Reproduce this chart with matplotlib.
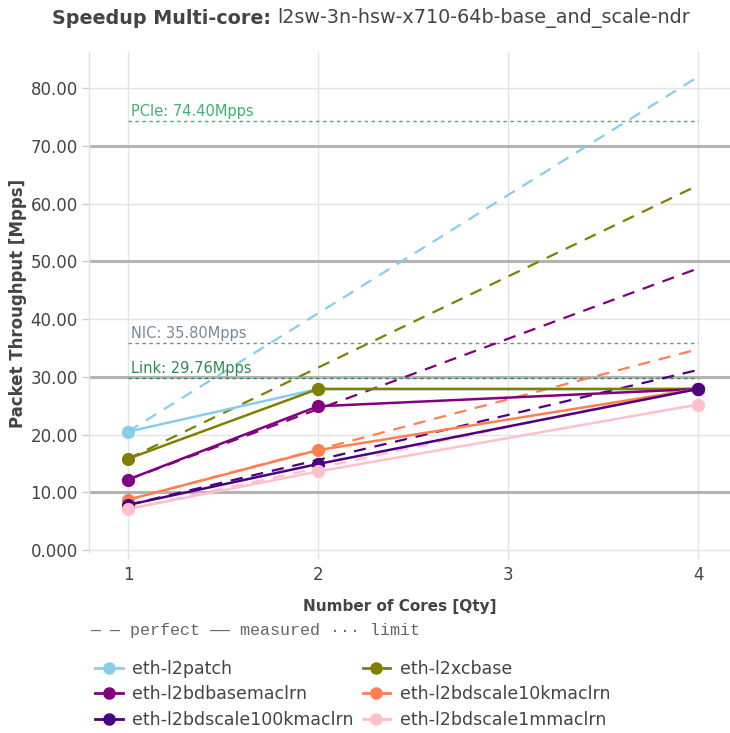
import matplotlib
matplotlib.use("Agg")
import matplotlib.pyplot as plt
from matplotlib.lines import Line2D

cores = [1, 2, 4]
tests = ["eth-l2patch", "eth-l2xcbase", "eth-l2bdbasemaclrn",
         "eth-l2bdscale10kmaclrn", "eth-l2bdscale100kmaclrn", "eth-l2bdscale1mmaclrn"]
colors = ["#87CEEB", "#808000", "#800080", "#FF7F50", "#4B0082", "#FFC0CB"]
measured = {
    "eth-l2patch": [20.5, 27.9, 27.9],
    "eth-l2xcbase": [15.8, 27.9, 27.9],
    "eth-l2bdbasemaclrn": [12.2, 24.9, 27.9],
    "eth-l2bdscale10kmaclrn": [8.7, 17.3, 27.9],
    "eth-l2bdscale100kmaclrn": [7.8, 14.9, 27.9],
    "eth-l2bdscale1mmaclrn": [7.1, 13.6, 25.2],
}
limit_names = ["PCIe", "NIC", "Link"]
limit_values = [74.40, 35.80, 29.76]
limit_colors = ["#3CB371", "#778899", "#2E8B57"]
yticks = [0, 10, 20, 30, 40, 50, 60, 70, 80]
ytick_labels = ["0.000", "10.00", "20.00", "30.00", "40.00", "50.00", "60.00", "70.00", "80.00"]

TXT = "#444444"
W, H = 730, 733
fig = plt.figure(figsize=(W / 100, H / 100), dpi=100)
ax = fig.add_axes([89 / W, 1 - 551.7 / H, 1 - 89 / W, (551.7 - 52) / H])
ax.set_xlim(0.795, 4.168)
ax.set_ylim(-0.3, 86.3)

for s in ["top", "right", "bottom"]:
    ax.spines[s].set_visible(False)
ax.spines["left"].set_color("#e0e0e0")
ax.spines["left"].set_linewidth(1)

# grid
for y in yticks:
    if y % 20 == 10:
        ax.axhline(y, color="#b4b4b4", lw=2.2, zorder=0.5)
    else:
        ax.axhline(y, color="#e4e4e4", lw=1.0, zorder=0.4)
for x in [1, 2, 3, 4]:
    ax.axvline(x, color="#e4e4e4", lw=1.0, zorder=0.4)

ax.set_xticks([1, 2, 3, 4])
ax.set_xticklabels(["1", "2", "3", "4"])
ax.set_yticks(yticks)
ax.set_yticklabels(ytick_labels)
ax.tick_params(axis="y", length=5, width=1, color="#cccccc", labelcolor=TXT, labelsize=12, pad=3)
ax.tick_params(axis="x", length=5, width=1, color="#e0e0e0", labelcolor=TXT, labelsize=12, pad=5)

# limits
for name, v, c in zip(limit_names, limit_values, limit_colors):
    ax.plot([1, 4], [v, v], color=c, lw=1.0, ls=(0, (2.5, 2.5)), zorder=1)
    ax.text(1.015, v + 0.35, f"{name}: {v:.2f}Mpps", color=c, fontsize=10.5,
            ha="left", va="bottom", zorder=3)

# series
handles = []
for t, c in zip(tests, colors):
    m = measured[t]
    perfect = [m[0] * n for n in cores]
    ax.plot(cores, perfect, color=c, lw=1.6, ls=(0, (5.5, 4)), zorder=2)
    ax.plot(cores, m, color=c, lw=1.8, marker="o", ms=8.5, zorder=3)
    handles.append(Line2D([0], [0], color=c, lw=2, marker="o", ms=8))

fig.text(400 / W, 1 - 607 / H, "Number of Cores [Qty]", fontsize=11, fontweight="bold",
         color=TXT, ha="center", va="center")
fig.text(18 / W, 1 - 303 / H, "Packet Throughput [Mpps]", rotation=90, fontsize=12,
         fontweight="bold", color=TXT, ha="center", va="center")

# title
fig.text(271 / W, 1 - 18 / H, "Speedup Multi-core:", fontsize=13.8, fontweight="bold",
         color=TXT, ha="right", va="center")
fig.text(277 / W, 1 - 18 / H, "l2sw-3n-hsw-x710-64b-base_and_scale-ndr", fontsize=13.8,
         color=TXT, ha="left", va="center")

# line-style legend text
fig.text(90 / W, 1 - 631 / H, "\u2014 \u2014 perfect \u2014\u2014 measured \u00b7\u00b7\u00b7 limit",
         family="Liberation Mono", fontsize=12, color="#666666", ha="left", va="center")

order = [0, 2, 4, 1, 3, 5]
leg = fig.legend([handles[i] for i in order], [tests[i] for i in order],
                 loc="upper left", bbox_to_anchor=(95 / W, 1 - 660 / H),
                 ncol=2, frameon=False, fontsize=12.5, handlelength=1.6, handletextpad=0.55,
                 columnspacing=0.5, labelspacing=0.42, borderaxespad=0, borderpad=0,
                 labelcolor=TXT)

fig.savefig("out.png", dpi=100)
